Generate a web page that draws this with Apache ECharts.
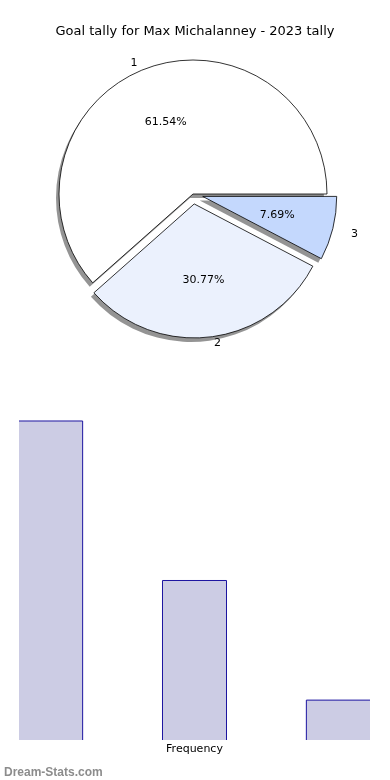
<!DOCTYPE html>
<html><head><meta charset="utf-8">
<script src="https://cdn.jsdelivr.net/npm/echarts@6/dist/echarts.min.js"></script>
<style>html,body{margin:0;padding:0;background:#fff}#c{width:390px;height:780px}</style>
</head><body><div id="c"></div>
<script>
const titleText = 'Goal tally for Max Michalanney - 2023 tally';
const pieNames = ['1', '2', '3'];
const pieValues = [8, 4, 1];
const pieColors = ['#ffffff', '#ebf1fd', '#c4d8fd'];
const pieExploded = [false, true, true];
const barCategories = ['1', '2', '3'];
const barValues = [8, 4, 1];
const xAxisName = 'Frequency';
const watermark = 'Dream-Stats.com';

// label nudges (style only) to mimic the slightly elliptical reference pie
const nameLabelShift = [[-8, 4], [6, -4], [12, 3]];

const FONT = 'DejaVu Sans';
const R = 134;
const C = [193, 194];
const BAR_W = 0.445; // bar width in x-axis units
const BAR_FILL = '#cccce4';
const BAR_EDGE = '#1c14a0';

const total = pieValues.reduce((a, b) => a + b, 0);

function renderBar(params, api) {
  const x = api.value(0), y = api.value(1);
  const base = api.coord([x, 0]);
  const tip = api.coord([x, y]);
  const w = api.size([BAR_W, 0])[0];
  const cs = params.coordSys;
  const left = base[0] - w / 2, right = base[0] + w / 2;
  const top = tip[1], bottom = base[1];
  const cl = Math.max(left, cs.x), cr = Math.min(right, cs.x + cs.width);
  if (cr <= cl) return null;
  const pts = [];
  if (left >= cs.x) pts.push([left, bottom]);
  pts.push([cl, top], [cr, top]);
  if (right <= cs.x + cs.width) pts.push([right, bottom]);
  return {
    type: 'group',
    children: [
      { type: 'rect', shape: { x: cl, y: top, width: cr - cl, height: bottom - top }, style: { fill: BAR_FILL } },
      { type: 'polyline', shape: { points: pts }, style: { fill: null, stroke: BAR_EDGE, lineWidth: 1 } }
    ]
  };
}

const chart = echarts.init(document.getElementById('c'), null, { renderer: 'canvas' });
const basePie = { type: 'pie', startAngle: 0, clockwise: false, selectedMode: 'multiple', silent: true, emphasis: { disabled: true }, labelLine: { show: false } };
chart.setOption({
  animation: false,
  backgroundColor: '#fff',
  textStyle: { fontFamily: FONT },
  title: [
    { text: titleText, left: 'center', top: 20, textStyle: { fontFamily: FONT, fontSize: 13, fontWeight: 'normal', color: '#000' } },
    { text: watermark, left: -1, top: 762, textStyle: { fontFamily: 'Liberation Sans', fontSize: 12, fontWeight: 'bold', color: '#8c8c8c' } }
  ],
  grid: { left: 19, right: 20, top: 419, bottom: 40, containLabel: false },
  xAxis: {
    type: 'value', min: -0.22, max: 2.22,
    axisLine: { show: false }, axisTick: { show: false }, axisLabel: { show: false }, splitLine: { show: false },
    name: xAxisName, nameLocation: 'middle', nameGap: 4,
    nameTextStyle: { fontFamily: FONT, fontSize: 11, color: '#000', verticalAlign: 'top' }
  },
  yAxis: {
    type: 'value', min: 0, max: 8.05,
    axisLine: { show: false }, axisTick: { show: false }, axisLabel: { show: false }, splitLine: { show: false }
  },
  series: [
    Object.assign({}, basePie, {
      center: [C[0] - 3, C[1] + 4], radius: [0, R], selectedOffset: 10,
      label: { show: false },
      itemStyle: { color: 'rgba(0,0,0,0.42)', borderWidth: 0 },
      data: pieNames.map((n, i) => ({ name: n, value: pieValues[i], selected: pieExploded[i] }))
    }),
    Object.assign({}, basePie, {
      center: C, radius: [0, R], selectedOffset: 10,
      label: { show: false },
      itemStyle: { borderColor: '#000', borderWidth: 0.8 },
      data: pieNames.map((n, i) => ({ name: n, value: pieValues[i], selected: pieExploded[i], itemStyle: { color: pieColors[i] } }))
    }),
    Object.assign({}, basePie, {
      center: C, radius: [0.1 * R, R], selectedOffset: 10,
      itemStyle: { color: 'rgba(0,0,0,0)', borderWidth: 0 },
      label: { show: true, position: 'inside', fontFamily: FONT, fontSize: 11, color: '#000',
        formatter: p => (p.value / total * 100).toFixed(2) + '%' },
      data: pieNames.map((n, i) => ({ name: n, value: pieValues[i], selected: pieExploded[i] }))
    }),
    Object.assign({}, basePie, {
      center: C, radius: [R, R + 14], selectedOffset: 10,
      itemStyle: { color: 'rgba(0,0,0,0)', borderWidth: 0 },
      label: { show: true, position: 'inside', fontFamily: FONT, fontSize: 11, color: '#000', formatter: '{b}' },
      labelLayout: p => ({ dx: nameLabelShift[p.dataIndex][0], dy: nameLabelShift[p.dataIndex][1] }),
      data: pieNames.map((n, i) => ({ name: n, value: pieValues[i], selected: pieExploded[i] }))
    }),
    {
      type: 'custom', coordinateSystem: 'cartesian2d', silent: true,
      renderItem: renderBar,
      encode: { x: 0, y: 1 },
      data: barCategories.map((c, i) => [i, barValues[i]])
    }
  ]
});
</script></body></html>
